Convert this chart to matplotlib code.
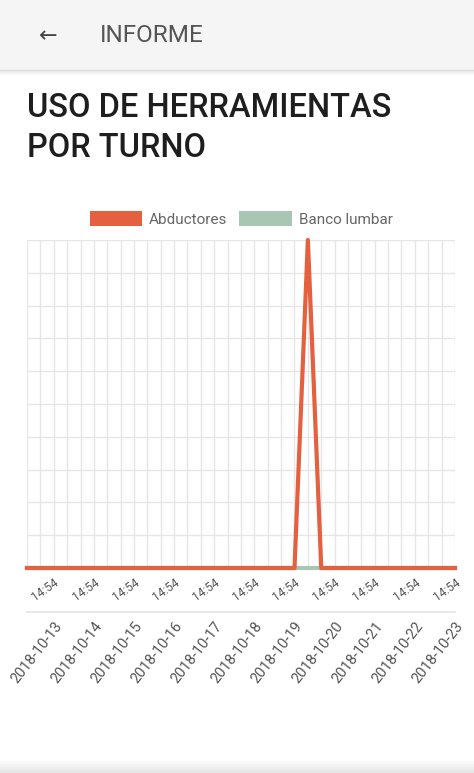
import numpy as np
import matplotlib.pyplot as plt
from matplotlib.patches import Rectangle, Patch
from matplotlib.ticker import MultipleLocator

plt.rcParams['font.family'] = ['Roboto', 'DejaVu Sans']

# data: one point per shift, 3 shifts per day
dates = ['2018-10-13', '2018-10-14', '2018-10-15', '2018-10-16', '2018-10-17',
         '2018-10-18', '2018-10-19', '2018-10-20', '2018-10-21', '2018-10-22',
         '2018-10-23']
times = ['14:54', '14:54', '14:54', '14:54', '14:54', '14:54',
         '14:54', '14:54', '14:54', '14:54', '14:54']
abductores = [0, 0, 0, 0, 0, 0, 0, 0, 0, 0, 0, 0, 0, 0, 0, 0, 0,
              0, 0, 0, 0, 1, 0, 0, 0, 0, 0, 0, 0, 0, 0, 0, 0]
banco_lumbar = [0] * 33
series_names = ['Abductores', 'Banco lumbar']

W, H = 474, 773
fig = plt.figure(figsize=(W / 100, H / 100), dpi=100)
fig.patch.set_facecolor('white')

# app bar
fig.add_artist(Rectangle((0, 1 - 70 / H), 1, 70 / H, transform=fig.transFigure,
                         color='#f5f5f5', zorder=0))
for k, c in enumerate(['#dcdcdc', '#e8e8e8', '#f2f2f2']):
    fig.add_artist(Rectangle((0, 1 - (71 + k) / H), 1, 1 / H, transform=fig.transFigure,
                             color=c, zorder=0))
fig.text(48 / W, 1 - 36 / H, '\u2190', fontsize=16, color='#444444',
         ha='center', va='center', family=['DejaVu Sans'])
fig.text(100 / W, 1 - 36 / H, 'INFORME', fontsize=17.5, color='#555555',
         ha='left', va='center')

fig.text(27 / W, 1 - 117 / H, 'USO DE HERRAMIENTAS', fontsize=23.5, color='#1e1e1e',
         ha='left', va='baseline', fontweight='medium')
fig.text(27 / W, 1 - 157 / H, 'POR TURNO', fontsize=23.5, color='#1e1e1e',
         ha='left', va='baseline', fontweight='medium')

# bottom shadow
for k, c in enumerate(['#fafafa', '#f4f4f4', '#eeeeee', '#e6e6e6']):
    fig.add_artist(Rectangle((0, (3 - k) * 3 / H), 1, 3 / H, transform=fig.transFigure,
                             color=c, zorder=0))

# chart
x0, x1, ytop, ybot = 27, 455, 240, 568
ax = fig.add_axes([x0 / W, 1 - ybot / H, (x1 - x0) / W, (ybot - ytop) / H])
x = np.arange(len(abductores))
ax.plot(x, banco_lumbar, color='#a9c5b3', lw=3, zorder=3, clip_on=False)
ax.plot(x, abductores, color='#e4603f', lw=3, zorder=4, clip_on=False)
ax.set_xlim(0, len(x) - 1)
ax.set_ylim(0, 1)

for s in ax.spines.values():
    s.set_visible(False)
ax.yaxis.set_major_locator(MultipleLocator(0.1))
ax.tick_params(axis='y', left=False, labelleft=False)
ax.xaxis.set_minor_locator(MultipleLocator(1))
ax.grid(True, which='both', color='#e6e6e6', lw=1)

# first row of labels: shift times
tick_pos = x[2::3]
ax.set_xticks(tick_pos)
ax.set_xticklabels(times, rotation=35, ha='right', rotation_mode='anchor',
                   fontsize=8.5, color='#555555')
ax.tick_params(axis='x', which='both', length=0, pad=6)

# second row of labels: days
ax2 = ax.secondary_xaxis((ybot - 612) / (ybot - ytop))
ax2.set_xticks(tick_pos)
ax2.set_xticklabels(dates, rotation=52, ha='right', rotation_mode='anchor',
                    fontsize=10.5, color='#555555')
ax2.spines['bottom'].set_color('#e3e3e3')
ax2.spines['bottom'].set_linewidth(1.2)
ax2.tick_params(axis='x', length=0, pad=5)

handles = [Patch(facecolor='#e4603f', edgecolor='none'),
           Patch(facecolor='#a9c5b3', edgecolor='none')]
fig.legend(handles, series_names, loc='center', bbox_to_anchor=(241 / W, 1 - 219 / H),
           ncol=2, frameon=False, fontsize=11, labelcolor='#666666',
           handlelength=3.45, handleheight=1.15, handletextpad=0.45, columnspacing=0.75)

fig.savefig('out.png', dpi=100)
